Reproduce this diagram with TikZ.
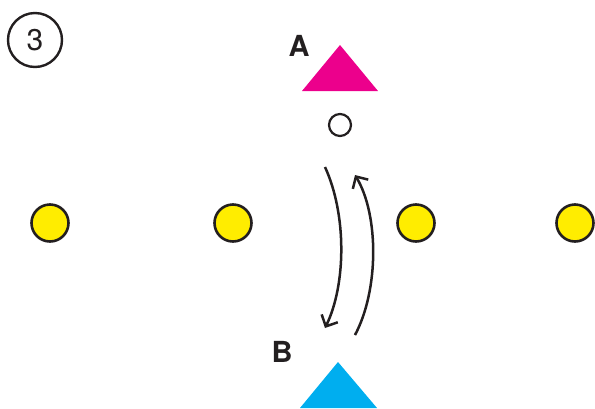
\documentclass[tikz,border=0pt]{standalone}
\usepackage{fontspec}
\setmainfont{TeX Gyre Heros}
\usetikzlibrary{arrows.meta}

\definecolor{magentaA}{RGB}{236,0,140}
\definecolor{cyanB}{RGB}{0,174,239}
\definecolor{dotyellow}{RGB}{255,237,0}
\definecolor{ink}{RGB}{35,31,32}

\tikzset{
	player/.style={circle, draw=ink, line width=2.6pt, fill=dotyellow, minimum size=37pt, inner sep=0pt},
	ball/.style={circle, draw=ink, line width=2.2pt, fill=white, minimum size=22pt, inner sep=0pt},
	move/.style={ink, line width=2.5pt, -{Straight Barb[length=9pt,width=18pt]}},
	letter/.style={text=ink, font=\fontsize{29}{29}\selectfont\bfseries}
}

\begin{document}
\begin{tikzpicture}[x=1pt,y=-1pt]
	\useasboundingbox (0,0) rectangle (595,408);
	
	\node[circle, draw=ink, line width=2.4pt, minimum size=54pt, inner sep=0pt, text=ink, font=\fontsize{30}{30}\selectfont] (num) at (35,40) {3};
	
	% triangles
	\fill[magentaA] (302,91) -- (340,45) -- (378,91) -- cycle;
	\fill[cyanB] (300,408) -- (338,362) -- (377,408) -- cycle;
	\node[letter] (labA) at (299,46) {A};
	\node[letter] (labB) at (282,352) {B};
	
	\node[ball] (ball) at (340,125) {};
	
	\foreach \x/\name in {50/p1, 233/p2, 416/p3, 575/p4}
		\node[player] (\name) at (\x,223) {};
	
	\coordinate (down1) at (325,167);
	\coordinate (down2) at (325,328);
	\coordinate (up1) at (355,335);
	\coordinate (up2) at (355,175);
	\draw[move] (down1) .. controls (347,215) and (346,285) .. (down2);
	\draw[move] (up1) .. controls (379,290) and (379,215) .. (up2);
\end{tikzpicture}
\end{document}
